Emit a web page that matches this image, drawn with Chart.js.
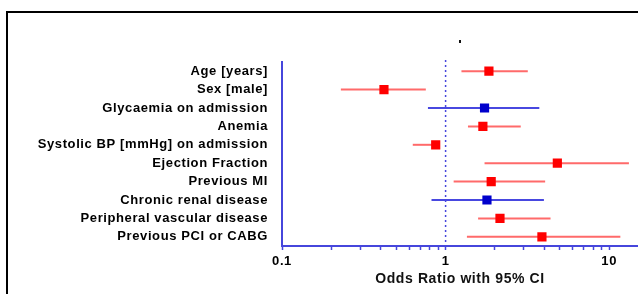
<!DOCTYPE html>
<html>
<head>
<meta charset="utf-8">
<script src="https://cdn.jsdelivr.net/npm/chart.js@4/dist/chart.umd.min.js"></script>
<style>
  html, body { margin: 0; padding: 0; background: #fff; }
  #wrap { position: relative; width: 638px; height: 294px; overflow: hidden; }
  #frame { position: absolute; left: 6px; top: 11px; width: 700px; height: 281px;
           border-top: 2px solid #000; border-left: 2px solid #000; }
  #dot { position: absolute; left: 459px; top: 40px; width: 2px; height: 3px; background: #111; }
  canvas { position: absolute; left: 0; top: 0; }
</style>
</head>
<body>
<div id="wrap">
  <div id="frame"></div>
  <div id="dot"></div>
  <canvas id="c" width="638" height="294"></canvas>
</div>
<script>
// ---- data ----
const categories = [
  'Age [years]',
  'Sex [male]',
  'Glycaemia on admission',
  'Anemia',
  'Systolic BP [mmHg] on admission',
  'Ejection Fraction',
  'Previous MI',
  'Chronic renal disease',
  'Peripheral vascular disease',
  'Previous PCI or CABG'
];
const oddsRatio = [1.84, 0.42, 1.73, 1.69, 0.87, 4.82, 1.90, 1.79, 2.15, 3.88];
const ciLow     = [1.25, 0.229, 0.78, 1.37, 0.63, 1.73, 1.12, 0.82, 1.58, 1.35];
const ciHigh    = [3.18, 0.757, 3.74, 2.88, 0.92, 13.2, 4.06, 3.99, 4.38, 11.7];
const significant = [true, true, false, true, true, true, true, false, true, true];
const xTickLabels = [0.1, 1, 10];
const referenceLine = 1;
const xMin = 0.1, xMax = 15;

// ---- styles ----
const RED = '#ff0000', RED_LINE = '#ff6a6a';
const BLUE = '#0000cc', BLUE_LINE = '#4848e0';
const AXIS = '#4646dc';
const FONT = "'Liberation Sans', Arial, sans-serif";

const errorBars = {
  id: 'errorBars',
  afterLayout(chart) {
    // let the plot area run to the right edge of the canvas, as in the reference
    const a = chart.chartArea, xs = chart.scales.x;
    a.right = chart.width; a.width = a.right - a.left;
    xs.right = chart.width; xs.width = xs.right - xs.left;
    xs.configure();
  },
  beforeDraw(chart) { chart.ctx.letterSpacing = '0.6px'; },
  beforeDatasetsDraw(chart) {
    const ctx = chart.ctx, xs = chart.scales.x, ys = chart.scales.y, a = chart.chartArea;
    ctx.save();
    // reference line at OR = 1
    const xr = xs.getPixelForValue(referenceLine);
    ctx.strokeStyle = AXIS; ctx.lineWidth = 1.5; ctx.setLineDash([2, 3]);
    ctx.beginPath(); ctx.moveTo(xr, a.top - 2); ctx.lineTo(xr, a.bottom); ctx.stroke();
    ctx.setLineDash([]);
    ctx.lineWidth = 2;
    categories.forEach((c, i) => {
      const y = ys.getPixelForValue(i);
      ctx.strokeStyle = significant[i] ? RED_LINE : BLUE_LINE;
      ctx.beginPath();
      ctx.moveTo(xs.getPixelForValue(ciLow[i]), y);
      ctx.lineTo(xs.getPixelForValue(ciHigh[i]), y);
      ctx.stroke();
    });
    ctx.restore();
  }
};

const isLabelled = v => xTickLabels.some(t => Math.abs(t - v) < 1e-9);
const isWholeSignificand = v => {
  const sig = v / Math.pow(10, Math.floor(Math.log10(v) + 1e-9));
  return Math.abs(sig - Math.round(sig)) < 1e-6;
};

new Chart(document.getElementById('c'), {
  type: 'scatter',
  data: {
    datasets: [{
      data: categories.map((c, i) => ({ x: oddsRatio[i], y: c })),
      pointStyle: 'rect',
      pointRadius: 6.5,
      pointHoverRadius: 6.5,
      borderWidth: 0,
      backgroundColor: significant.map(s => s ? RED : BLUE),
      borderColor: significant.map(s => s ? RED : BLUE)
    }]
  },
  options: {
    responsive: false,
    animation: false,
    events: [],
    layout: { padding: { top: 62, right: 0, bottom: 0, left: 0 } },
    plugins: { legend: { display: false }, tooltip: { enabled: false } },
    scales: {
      y: {
        type: 'category',
        labels: categories,
        offset: true,
        position: 'left',
        afterFit(s) { s.width = 282; },
        grid: { display: true, drawOnChartArea: false, drawTicks: false },
        border: { display: true, color: AXIS, width: 2 },
        ticks: { autoSkip: false, color: '#000', padding: 14, font: { family: FONT, size: 13, weight: 'bold' } }
      },
      x: {
        type: 'logarithmic',
        min: xMin,
        max: xMax,
        afterFit(s) { s.height = 48; },
        afterBuildTicks(s) { s.ticks = s.ticks.filter(t => isWholeSignificand(t.value) && t.value <= 10.0001); },
        grid: { display: true, drawOnChartArea: false, drawTicks: true, tickLength: 4, tickWidth: 1.5, tickColor: AXIS },
        border: { display: true, color: AXIS, width: 2 },
        ticks: {
          autoSkip: false, maxRotation: 0, padding: 4, color: '#000',
          font: { family: FONT, size: 13, weight: 'bold' },
          callback(v) { return isLabelled(v) ? String(v) : ''; }
        },
        title: {
          display: true, text: 'Odds Ratio with 95% CI', color: '#111',
          font: { family: FONT, size: 14, weight: 'bold' }, padding: { top: 0, bottom: 6 }
        }
      }
    }
  },
  plugins: [errorBars]
});
</script>
</body>
</html>
